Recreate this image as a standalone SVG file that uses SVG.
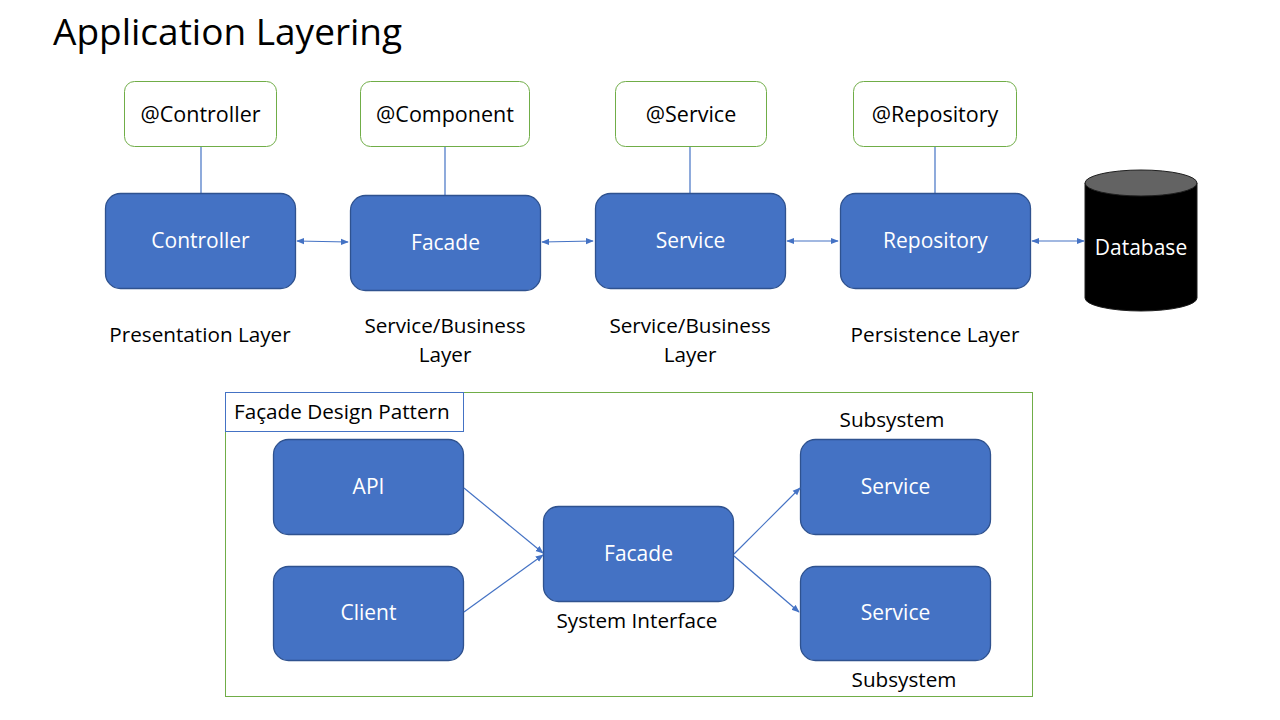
<svg xmlns="http://www.w3.org/2000/svg" width="1280" height="720" viewBox="0 0 1280 720">
<style>
text{font-family:"Open Sans","Noto Sans","Liberation Sans",sans-serif;}
.t{font-size:37px;fill:#000;}
.ann rect{fill:#fff;stroke:#70AD47;stroke-width:1;}
.ann text{font-size:21.5px;fill:#000;text-anchor:middle;}
.lbl{font-size:20.7px;fill:#000;text-anchor:middle;}
.node rect{fill:#4472C4;stroke:#2F528F;stroke-width:1.3;}
.node text{font-size:21px;fill:#fff;text-anchor:middle;}
.conn line{stroke:#4472C4;stroke-width:1.2;fill:none;}
.stub{stroke:#4472C4;stroke-width:1.2;}
</style>
<defs>
<marker id="ah" viewBox="0 0 10 10" refX="9" refY="5" markerWidth="8" markerHeight="8" orient="auto-start-reverse" markerUnits="userSpaceOnUse">
<path d="M0,1 L10,5 L0,9 z" fill="#4472C4"/>
</marker>
</defs>
<rect width="1280" height="720" fill="#fff"/>
<text class="t" x="53" y="45">Application Layering</text>

<g id="ann-controller" class="ann"><rect x="124.5" y="81.5" width="152" height="65" rx="10"/><text x="200.5" y="122">@Controller</text></g>
<g id="ann-component" class="ann"><rect x="360.5" y="81.5" width="169" height="65" rx="10"/><text x="445" y="122">@Component</text></g>
<g id="ann-service" class="ann"><rect x="615.5" y="81.5" width="151" height="65" rx="10"/><text x="691" y="122">@Service</text></g>
<g id="ann-repository" class="ann"><rect x="853.5" y="81.5" width="163" height="65" rx="10"/><text x="935" y="122">@Repository</text></g>

<g id="stubs">
<line class="stub" x1="201" y1="147" x2="201" y2="193"/>
<line class="stub" x1="445" y1="147" x2="445" y2="195"/>
<line class="stub" x1="690" y1="147" x2="690" y2="193"/>
<line class="stub" x1="935" y1="147" x2="935" y2="193"/>
</g>

<g id="controller" class="node"><rect x="105.5" y="193.5" width="190" height="95" rx="15"/><text x="200.5" y="248">Controller</text></g>
<g id="facade-top" class="node"><rect x="350.5" y="195.5" width="190" height="95" rx="15"/><text x="445.5" y="250">Facade</text></g>
<g id="service-top" class="node"><rect x="595.5" y="193.5" width="190" height="95" rx="15"/><text x="690.5" y="248">Service</text></g>
<g id="repository" class="node"><rect x="840.5" y="193.5" width="190" height="95" rx="15"/><text x="935.5" y="248">Repository</text></g>

<g id="database">
<path d="M1085,183 L1085,298 A56,13 0 0 0 1197,298 L1197,183 Z" fill="#000" stroke="#1f1f1f"/>
<ellipse cx="1141" cy="183" rx="56" ry="13" fill="#636363" stroke="#1f1f1f"/>
<text x="1141" y="255" font-size="21" fill="#fff" text-anchor="middle">Database</text>
</g>

<g id="layer-labels">
<text class="lbl" x="200" y="342">Presentation Layer</text>
<text class="lbl" x="445" y="333">Service/Business</text>
<text class="lbl" x="445" y="362">Layer</text>
<text class="lbl" x="690" y="333">Service/Business</text>
<text class="lbl" x="690" y="362">Layer</text>
<text class="lbl" x="935" y="342">Persistence Layer</text>
</g>

<g id="pattern-frame">
<rect x="225.5" y="392.5" width="807" height="304" fill="none" stroke="#70AD47" stroke-width="1"/>
<rect x="225.5" y="392.5" width="238" height="39" fill="#fff" stroke="#4472C4" stroke-width="1"/>
<text x="234" y="419" font-size="20.7" fill="#000">Façade Design Pattern</text>
</g>

<g id="api" class="node"><rect x="273.5" y="439.5" width="190" height="95" rx="15"/><text x="368.5" y="494">API</text></g>
<g id="client" class="node"><rect x="273.5" y="566.5" width="190" height="94" rx="15"/><text x="368.5" y="620">Client</text></g>
<g id="facade" class="node"><rect x="543.5" y="506.5" width="190" height="95" rx="15"/><text x="638.5" y="561">Facade</text></g>
<g id="service-1" class="node"><rect x="800.5" y="439.5" width="190" height="95" rx="15"/><text x="895.5" y="494">Service</text></g>
<g id="service-2" class="node"><rect x="800.5" y="566.5" width="190" height="94" rx="15"/><text x="895.5" y="620">Service</text></g>

<g id="pattern-labels">
<text class="lbl" x="892" y="427">Subsystem</text>
<text class="lbl" x="637" y="628">System Interface</text>
<text class="lbl" x="904" y="687">Subsystem</text>
</g>

<g id="connectors" class="conn">
<line x1="297" y1="241" x2="348" y2="242" marker-start="url(#ah)" marker-end="url(#ah)"/>
<line x1="542" y1="242" x2="593" y2="241" marker-start="url(#ah)" marker-end="url(#ah)"/>
<line x1="787" y1="241" x2="838" y2="241" marker-start="url(#ah)" marker-end="url(#ah)"/>
<line x1="1032" y1="241" x2="1084" y2="241" marker-start="url(#ah)" marker-end="url(#ah)"/>
<line x1="464" y1="488" x2="543" y2="553" marker-end="url(#ah)"/>
<line x1="464" y1="612" x2="543" y2="555" marker-end="url(#ah)"/>
<line x1="734" y1="554" x2="800" y2="488" marker-end="url(#ah)"/>
<line x1="734" y1="556" x2="799" y2="612" marker-end="url(#ah)"/>
</g>
</svg>
